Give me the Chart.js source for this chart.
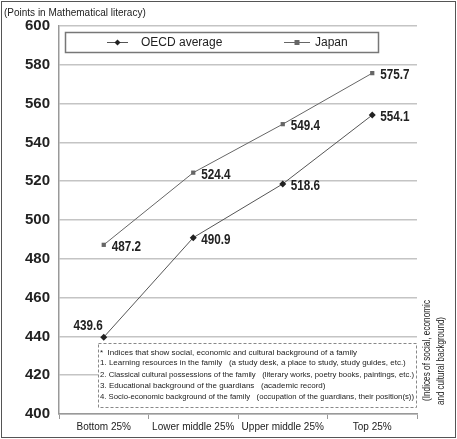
<!DOCTYPE html>
<html>
<head>
<meta charset="utf-8">
<script src="https://cdn.jsdelivr.net/npm/chart.js@4"></script>
<style>
  body { margin: 0; background: #fff; }
  #wrap { position: relative; width: 457px; height: 439px; }
</style>
</head>
<body>
<div id="wrap"><canvas id="chart"></canvas></div>
<script>
const categories = ['Bottom 25%', 'Lower middle 25%', 'Upper middle 25%', 'Top 25%'];
const oecdAverage = [439.6, 490.9, 518.6, 554.1];
const japan = [487.2, 524.4, 549.4, 575.7];
const yMin = 400;
const yMax = 600;
const yStep = 20;
const seriesNames = ['OECD average', 'Japan'];
const unitLabel = '(Points in Mathematical literacy)';
const sideLabel = ['(Indices of social, economic', 'and cultural background)'];
const noteLines = [
    '*  Indices that show social, economic and cultural background of a family',
    '1. Learning resources in the family   (a study desk, a place to study, study guides, etc.)',
    '2. Classical cultural possessions of the family   (literary works, poetry books, paintings, etc.)',
    '3. Educational background of the guardians   (academic record)',
    '4. Socio-economic background of the family   (occupation of the guardians, their position(s))'
];

const sans = "'Liberation Sans', Arial, sans-serif";

// squeeze text sideways, the original uses a condensed face
function squeezed(ctx, txt, x, y, k) {
    ctx.fillText(txt, x, y, ctx.measureText(txt).width * k);
}

// labels, legend box, notes, frame
const extras = {
    id: 'extras',
    afterDatasetsDraw(chart) {
        const ctx = chart.ctx;
        ctx.save();

        // data labels
        ctx.fillStyle = '#222';
        ctx.font = 'bold 15px ' + sans;
        chart.data.datasets.forEach((ds, di) => {
            const meta = chart.getDatasetMeta(di);
            meta.data.forEach((pt, i) => {
                const txt = ds.data[i].toFixed(1);
                if (di === 0 && i === 0) {
                    ctx.textAlign = 'right';
                    ctx.textBaseline = 'bottom';
                    squeezed(ctx, txt, pt.x - 1, pt.y - 4, 0.78);
                } else {
                    ctx.textAlign = 'left';
                    ctx.textBaseline = 'middle';
                    squeezed(ctx, txt, pt.x + 8, pt.y + 2, 0.78);
                }
            });
        });

        // legend box
        ctx.fillStyle = '#fff';
        ctx.fillRect(65, 32, 313, 20);
        ctx.strokeStyle = '#777';
        ctx.lineWidth = 1.5;
        ctx.strokeRect(65.5, 32.5, 313, 20);
        const items = [
            { x1: 107, x2: 128, text: seriesNames[0], x: 141, color: '#555', marker: '#222', diamond: true },
            { x1: 284, x2: 310, text: seriesNames[1], x: 315, color: '#666', marker: '#666', diamond: false }
        ];
        items.forEach(it => {
            ctx.strokeStyle = it.color;
            ctx.lineWidth = 1;
            ctx.beginPath();
            ctx.moveTo(it.x1, 42.5);
            ctx.lineTo(it.x2, 42.5);
            ctx.stroke();
            const mx = (it.x1 + it.x2) / 2;
            ctx.fillStyle = it.marker;
            ctx.beginPath();
            if (it.diamond) {
                ctx.moveTo(mx, 39.5); ctx.lineTo(mx + 3, 42.5);
                ctx.lineTo(mx, 45.5); ctx.lineTo(mx - 3, 42.5);
            } else {
                ctx.rect(mx - 2.5, 40, 5, 5);
            }
            ctx.fill();
            ctx.fillStyle = '#222';
            ctx.font = '12px ' + sans;
            ctx.textAlign = 'left';
            ctx.textBaseline = 'middle';
            ctx.fillText(it.text, it.x, 43);
        });

        // notes box
        ctx.fillStyle = '#fff';
        ctx.fillRect(98, 343, 319, 64);
        ctx.setLineDash([3, 2]);
        ctx.strokeStyle = '#888';
        ctx.lineWidth = 1;
        ctx.strokeRect(98.5, 343.5, 318, 64);
        ctx.setLineDash([]);
        ctx.fillStyle = '#222';
        ctx.font = '8px ' + sans;
        ctx.textAlign = 'left';
        ctx.textBaseline = 'middle';
        const noteY = [353, 363, 375, 386, 397];
        noteLines.forEach((l, i) => ctx.fillText(l, 100, noteY[i], 314));

        // unit label
        ctx.font = '10px ' + sans;
        ctx.textBaseline = 'middle';
        ctx.fillText(unitLabel, 4, 13);

        // side label
        ctx.font = '10px ' + sans;
        ctx.textBaseline = 'middle';
        ctx.save();
        ctx.translate(427, 401);
        ctx.rotate(-Math.PI / 2);
        ctx.fillText(sideLabel[0], 0, 0, 101);
        ctx.restore();
        ctx.save();
        ctx.translate(441, 405);
        ctx.rotate(-Math.PI / 2);
        ctx.fillText(sideLabel[1], 0, 0, 88);
        ctx.restore();

        // frame
        ctx.strokeStyle = '#555';
        ctx.lineWidth = 1;
        ctx.strokeRect(1.5, 1.5, 454, 436);
        ctx.restore();
    }
};

new Chart(document.getElementById('chart'), {
    type: 'line',
    data: {
        labels: categories,
        datasets: [
            {
                label: seriesNames[0],
                data: oecdAverage,
                borderColor: '#555',
                borderWidth: 1,
                pointStyle: 'rectRot',
                pointRadius: 3.5,
                pointBackgroundColor: '#222',
                pointBorderColor: '#222',
                pointBorderWidth: 0,
                tension: 0
            },
            {
                label: seriesNames[1],
                data: japan,
                borderColor: '#666',
                borderWidth: 1,
                pointStyle: 'rect',
                pointRadius: 3,
                pointBackgroundColor: '#666',
                pointBorderColor: '#666',
                pointBorderWidth: 0,
                tension: 0
            }
        ]
    },
    options: {
        responsive: true,
        maintainAspectRatio: false,
        animation: false,
        layout: { padding: { top: 26, right: 40, left: 0, bottom: 0 } },
        plugins: { legend: { display: false }, tooltip: { enabled: false } },
        scales: {
            x: {
                offset: true,
                grid: { offset: true, drawOnChartArea: false, tickLength: 5, color: '#999' },
                border: { color: '#999', width: 1.5 },
                ticks: { color: '#222', font: { size: 10, family: sans }, padding: 2, maxRotation: 0, autoSkip: false },
                afterFit(s) { s.height = 25; }
            },
            y: {
                min: yMin,
                max: yMax,
                grid: { color: '#c4c4c4', lineWidth: 1.5, drawTicks: false },
                border: { color: '#999', width: 1.5 },
                ticks: { stepSize: yStep, color: '#222', font: { size: 15, weight: 'bold', family: sans }, padding: 9 },
                afterFit(s) { s.width = 59; }
            }
        }
    },
    plugins: [extras]
});
</script>
</body>
</html>
